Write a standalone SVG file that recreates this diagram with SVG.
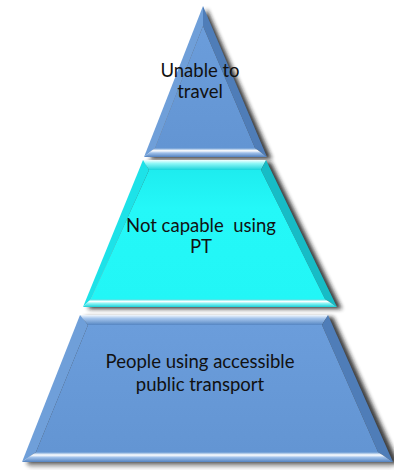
<svg xmlns="http://www.w3.org/2000/svg" width="394" height="474" viewBox="0 0 394 474">
  <defs>
    <filter id="shadow" x="-10%" y="-10%" width="130%" height="130%">
      <feGaussianBlur stdDeviation="2.2"/>
    </filter>
    <linearGradient id="blueTop" x1="0" y1="0" x2="0" y2="1">
      <stop offset="0" stop-color="#f2f7fd"/>
      <stop offset="0.35" stop-color="#a5c5ec"/>
      <stop offset="1" stop-color="#5586c3"/>
    </linearGradient>
    <linearGradient id="blueBottom" x1="0" y1="0" x2="0" y2="1">
      <stop offset="0" stop-color="#6094d2"/>
      <stop offset="0.3" stop-color="#ffffff"/>
      <stop offset="0.55" stop-color="#9fc0ea"/>
      <stop offset="1" stop-color="#5382bf"/>
    </linearGradient>
    <linearGradient id="blueFace" x1="0" y1="0" x2="0" y2="1">
      <stop offset="0" stop-color="#6b9ddb"/>
      <stop offset="1" stop-color="#6395d3"/>
    </linearGradient>
    <linearGradient id="cyanTop" x1="0" y1="0" x2="0" y2="1">
      <stop offset="0" stop-color="#f4ffff"/>
      <stop offset="0.35" stop-color="#8ef7f7"/>
      <stop offset="1" stop-color="#1ad4dc"/>
    </linearGradient>
    <linearGradient id="cyanBottom" x1="0" y1="0" x2="0" y2="1">
      <stop offset="0" stop-color="#1fe0e4"/>
      <stop offset="0.3" stop-color="#ffffff"/>
      <stop offset="0.55" stop-color="#8ef5f5"/>
      <stop offset="1" stop-color="#1bd0d8"/>
    </linearGradient>
    <linearGradient id="cyanFace" x1="0" y1="0" x2="0" y2="1">
      <stop offset="0" stop-color="#1eecef"/>
      <stop offset="0.3" stop-color="#24f8f8"/>
      <stop offset="1" stop-color="#22f6f6"/>
    </linearGradient>
  </defs>
  <style>
    .shadow { fill: #1a1a1a; opacity: 0.85; filter: url(#shadow); }
    .floor { fill: #888; opacity: 0.35; filter: url(#shadow); }
    .label { font-family: "Lato", "Open Sans", "Liberation Sans", sans-serif; font-size: 18.5px; fill: #111; text-anchor: middle; white-space: pre; }
    .b-left { fill: #6f9fd9; }
    .b-left-edge { fill: none; stroke: #8a97a8; stroke-width: 1.5; }
    .b-right { fill: #4f7db8; }
    .c-left { fill: #1de2e8; }
    .c-right { fill: #17bcc6; }
  </style>

  <rect width="394" height="474" fill="#ffffff"/>

  <!-- soft drop shadows behind the three tiers, cast to the right -->
  <g id="shadows">
    <polygon class="shadow" points="207,9 272,159 150,159"/>
    <polygon class="shadow" points="148,162 271,162 342,309 88,309"/>
    <polygon class="shadow" points="85,317 333,317 399,464 27,464"/>
    <polygon class="floor" points="26,462 393,462 393,468 30,468"/>
  </g>

  <!-- top tier -->
  <g id="tier-top">
    <polygon class="b-left" points="203,6 144,157 155,148 203,26"/>
    <polygon class="b-right" points="203,6 267,157 255,148 203,26"/>
    <polygon fill="url(#blueBottom)" points="144,157 267,157 255,148 155,148"/>
    <polygon fill="url(#blueFace)" points="203,26 255,148 155,148"/>
    <text class="label" x="200" y="77">Unable to</text>
    <text class="label" x="200" y="98">travel</text>
  </g>

  <!-- middle tier -->
  <g id="tier-middle">
    <polygon fill="url(#cyanTop)" points="143,160 266,160 261,170 149,170"/>
    <polygon class="c-left" points="143,160 149,170 91,299 83,307"/>
    <polygon class="c-right" points="266,160 337,307 325,299 261,170"/>
    <polygon fill="url(#cyanBottom)" points="83,307 337,307 325,299 91,299"/>
    <polygon fill="url(#cyanFace)" points="149,170 261,170 325,299 91,299"/>
    <text class="label" x="201" y="232">Not capable  using</text>
    <text class="label" x="201" y="253">PT</text>
  </g>

  <!-- bottom tier -->
  <g id="tier-bottom">
    <polygon fill="url(#blueTop)" points="80,315 328,315 322,325 88,325"/>
    <polygon class="b-left" points="80,315 88,325 36,452 22,462"/>
    <polygon class="b-right" points="328,315 393,462 378,452 322,325"/>
    <polygon fill="url(#blueBottom)" points="22,462 393,462 378,452 36,452"/>
    <polygon fill="url(#blueFace)" points="88,325 322,325 378,452 36,452"/>
    <text class="label" x="200" y="368">People using accessible</text>
    <text class="label" x="200" y="391">public transport</text>
  </g>
</svg>
